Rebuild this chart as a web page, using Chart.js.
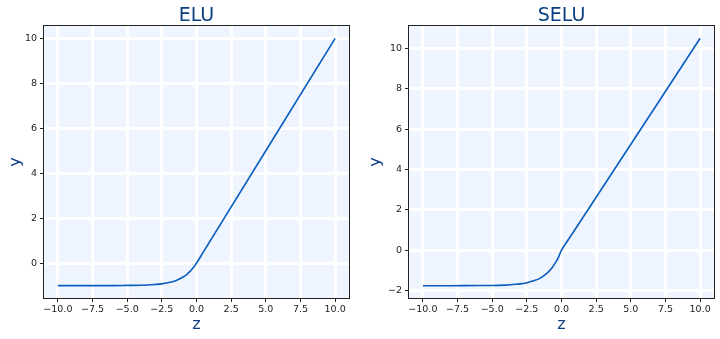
<!DOCTYPE html>
<html>
<head>
<meta charset="utf-8">
<script src="https://cdn.jsdelivr.net/npm/chart.js@4/dist/chart.umd.min.js"></script>
<style>
  html, body { margin: 0; padding: 0; background: #ffffff; }
  #wrap { position: relative; width: 720px; height: 339px; }
  .cell { position: absolute; top: 0; width: 360px; height: 339px; }
  #c1 { left: 0; }
  #c2 { left: 360px; }
</style>
</head>
<body>
<div id="wrap">
  <div class="cell" id="c1"><canvas id="elu" width="360" height="339"></canvas></div>
  <div class="cell" id="c2"><canvas id="selu" width="360" height="339"></canvas></div>
</div>
<script>
// ---- data ----
const titles = ['ELU', 'SELU'];
const xAxisLabel = 'z';
const yAxisLabel = 'y';

const eluZ = [-10, -8, -6, -5, -4, -3.5, -3, -2.5, -2, -1.5, -1, -0.75, -0.5, -0.25, 0, 0.5, 1, 10];
const eluY = [-1.00, -1.00, -1.00, -0.99, -0.98, -0.97, -0.95, -0.92, -0.86, -0.78, -0.63, -0.53, -0.39, -0.22, 0, 0.5, 1, 10];

const seluZ = [-10, -8, -6, -5, -4, -3.5, -3, -2.5, -2, -1.5, -1, -0.75, -0.5, -0.25, 0, 0.5, 1, 10];
const seluY = [-1.76, -1.76, -1.75, -1.75, -1.73, -1.70, -1.67, -1.61, -1.52, -1.37, -1.11, -0.93, -0.69, -0.39, 0, 0.53, 1.05, 10.51];

const xTicks = [-10, -7.5, -5, -2.5, 0, 2.5, 5, 7.5, 10];
const xTickLabels = ['\u221210.0', '\u22127.5', '\u22125.0', '\u22122.5', '0.0', '2.5', '5.0', '7.5', '10.0'];

const eluYTicks = [0, 2, 4, 6, 8, 10];
const eluYTickLabels = ['0', '2', '4', '6', '8', '10'];
const seluYTicks = [-2, 0, 2, 4, 6, 8, 10];
const seluYTickLabels = ['\u22122', '0', '2', '4', '6', '8', '10'];

const xRange = [-11, 11];
const eluYRange = [-1.55, 10.55];
const seluYRange = [-2.37, 11.12];

// ---- styling ----
const FONT = 'DejaVu Sans';
const LINE_COLOR = '#0a5cbf';
const TITLE_COLOR = '#0b3f80';
const TICK_COLOR = '#222222';
const PLOT_BG = 'rgb(238,245,254)';

const frame = {
  id: 'frame',
  beforeDraw(chart) {
    const a = chart.chartArea, ctx = chart.ctx;
    ctx.save();
    ctx.fillStyle = PLOT_BG;
    ctx.fillRect(a.left, a.top, a.right - a.left, a.bottom - a.top);
    ctx.restore();
  },
  afterDraw(chart) {
    const a = chart.chartArea, ctx = chart.ctx;
    ctx.save();
    ctx.strokeStyle = '#222';
    ctx.lineWidth = 1;
    ctx.strokeRect(Math.round(a.left) - 0.5, Math.round(a.top) - 0.5,
                   Math.round(a.right - a.left) + 1, Math.round(a.bottom - a.top) + 1);
    ctx.restore();
  }
};

function makeChart(id, title, zs, ys, yTicks, yTickLabels, yRange, yAxisWidth, rightPad) {
  const pts = zs.map((z, i) => ({ x: z, y: ys[i] }));
  return new Chart(document.getElementById(id), {
    type: 'line',
    data: {
      datasets: [{
        data: pts,
        borderColor: LINE_COLOR,
        borderWidth: 1.6,
        pointRadius: 0,
        fill: false,
        cubicInterpolationMode: 'monotone'
      }]
    },
    options: {
      responsive: false,
      animation: false,
      devicePixelRatio: 1,
      layout: { padding: { top: 0, right: rightPad, bottom: 0, left: 0 } },
      plugins: {
        legend: { display: false },
        tooltip: { enabled: false },
        title: {
          display: true,
          text: title,
          fullSize: false,
          color: TITLE_COLOR,
          font: { family: FONT, size: 19, weight: 'normal', lineHeight: 1.0 },
          padding: { top: 7, bottom: 0 }
        }
      },
      scales: {
        x: {
          type: 'linear',
          min: xRange[0], max: xRange[1],
          afterBuildTicks: s => { s.ticks = xTicks.map(v => ({ value: v })); },
          afterFit: s => { s.height = 41; },
          ticks: {
            color: TICK_COLOR,
            font: { family: FONT, size: 9.5 },
            padding: 2,
            maxRotation: 0,
            autoSkip: false,
            callback: v => xTickLabels[xTicks.indexOf(v)]
          },
          grid: { color: '#ffffff', lineWidth: 3, tickColor: '#222', tickWidth: 1, tickLength: 4 },
          border: { display: false },
          title: {
            display: true, text: xAxisLabel, color: TITLE_COLOR,
            font: { family: FONT, size: 16, lineHeight: 1.2 },
            padding: { top: 0, bottom: 5 }
          }
        },
        y: {
          type: 'linear',
          min: yRange[0], max: yRange[1],
          afterBuildTicks: s => { s.ticks = yTicks.map(v => ({ value: v })); },
          afterFit: s => { s.width = yAxisWidth; },
          ticks: {
            color: TICK_COLOR,
            font: { family: FONT, size: 9.5 },
            padding: 3,
            autoSkip: false,
            callback: v => yTickLabels[yTicks.indexOf(v)]
          },
          grid: { color: '#ffffff', lineWidth: 3, tickColor: '#222', tickWidth: 1, tickLength: 4 },
          border: { display: false },
          title: {
            display: true, text: yAxisLabel, color: TITLE_COLOR,
            font: { family: FONT, size: 16, lineHeight: 1.2 },
            padding: { top: 6, bottom: 0 }
          }
        }
      }
    },
    plugins: [frame]
  });
}

makeChart('elu', titles[0], eluZ, eluY, eluYTicks, eluYTickLabels, eluYRange, 44, 11);
makeChart('selu', titles[1], seluZ, seluY, seluYTicks, seluYTickLabels, seluYRange, 49, 6);
</script>
</body>
</html>
